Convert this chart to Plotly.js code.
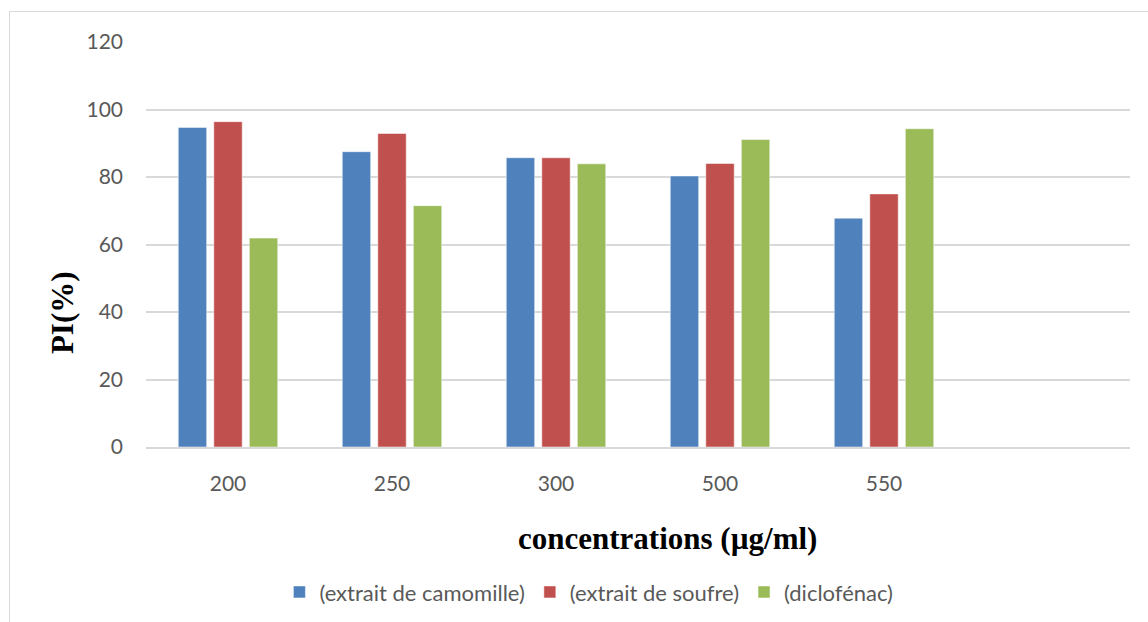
<!DOCTYPE html>
<html>
<head>
<meta charset="utf-8">
<script src="https://cdn.plot.ly/plotly-3.0.1.min.js"></script>
<style>
  html, body { margin: 0; padding: 0; background: #fff; }
  #wrap { position: relative; width: 1148px; height: 622px; }
  #chart { width: 1148px; height: 622px; }
  #frame { position: absolute; left: 9px; top: 11px; right: -2px; bottom: -2px;
           border-left: 1.5px solid #D9D9D9; border-top: 1.5px solid #D9D9D9; pointer-events: none; }
</style>
</head>
<body>
<div id="wrap">
  <div id="chart"></div>
  <div id="frame"></div>
</div>
<script>
const categories = ["200", "250", "300", "500", "550"];
const camomille = [94.7, 87.5, 85.7, 80.3, 67.8];
const soufre = [96.4, 92.9, 85.7, 84.0, 75.0];
const diclofenac = [61.9, 71.5, 83.9, 91.1, 94.3];
const seriesNames = ["(extrait de camomille)", "(extrait de soufre)", "(diclofénac)"];
const yTicks = [0, 20, 40, 60, 80, 100, 120];

const colors = ["#4F81BD", "#C0504D", "#9BBB59"];
const seriesValues = [camomille, soufre, diclofenac];

const traces = seriesValues.map((vals, i) => ({
  type: "bar",
  name: seriesNames[i],
  x: categories,
  y: vals,
  marker: { color: colors[i], line: { color: "rgba(255,255,255,0.5)", width: 1 } },
  hoverinfo: "x+y+name"
}));

const tickFont = { family: "Lato, 'Open Sans', sans-serif", size: 21, color: "#595959" };

const layout = {
  width: 1148,
  height: 622,
  margin: { l: 146, r: 18, t: 42, b: 175 },
  paper_bgcolor: "#ffffff",
  plot_bgcolor: "#ffffff",
  barmode: "group",
  bargap: 0.35,
  bargroupgap: 0.2,
  showlegend: true,
  xaxis: {
    type: "category",
    categoryarray: categories,
    range: [-0.5, 5.5],
    showgrid: false,
    showline: true,
    linecolor: "#D9D9D9",
    linewidth: 1.5,
    ticks: "",
    ticklabelstandoff: 17,
    tickfont: tickFont,
    automargin: false,
    fixedrange: true
  },
  yaxis: {
    range: [0, 120],
    tickvals: yTicks,
    ticktext: yTicks.map(String),
    showgrid: true,
    gridcolor: "#D9D9D9",
    gridwidth: 1.5,
    zeroline: false,
    showline: false,
    ticks: "",
    ticklabelstandoff: 22,
    tickfont: tickFont,
    automargin: false,
    fixedrange: true
  },
  legend: {
    orientation: "h",
    xref: "container",
    yref: "container",
    x: 0.513,
    xanchor: "center",
    y: 0.048,
    yanchor: "middle",
    font: { family: "Lato, 'Open Sans', sans-serif", size: 22, color: "#595959" },
    itemwidth: 30,
    traceorder: "normal"
  },
  annotations: [
    {
      text: "<b>PI(%)</b>",
      xref: "paper", yref: "paper",
      x: -0.0854, y: 0.333,
      xanchor: "center", yanchor: "middle",
      textangle: -90,
      showarrow: false,
      font: { family: "'Liberation Serif', 'Times New Roman', serif", size: 31, color: "#000" }
    },
    {
      text: "<b>concentrations (µg/ml)</b>",
      xref: "paper", yref: "paper",
      x: 0.5295, y: -0.2247,
      xanchor: "center", yanchor: "middle",
      showarrow: false,
      font: { family: "'Liberation Serif', 'Times New Roman', serif", size: 31, color: "#000" }
    }
  ]
};

Plotly.newPlot("chart", traces, layout, { displayModeBar: false });
</script>
</body>
</html>
